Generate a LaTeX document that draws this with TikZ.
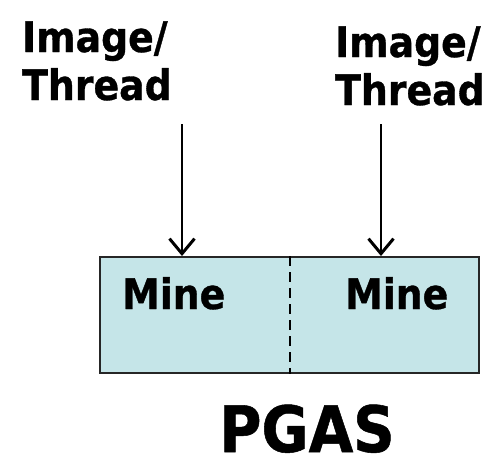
\documentclass[tikz,border=0pt]{standalone}
\usepackage{fontspec}
\setmainfont{DejaVu Sans Condensed}[BoldFeatures={FakeBold=0.8}]
\usetikzlibrary{arrows.meta}
\definecolor{boxfill}{RGB}{197,229,232}
\begin{document}
\begin{tikzpicture}[x=1pt,y=1pt,
  lbl/.style={font=\bfseries\fontsize{42}{48}\selectfont, inner sep=0pt, anchor=base west},
  arr/.style={line width=1.6pt, -{Straight Barb[length=15pt,width=25pt,line width=3pt]}},
  memory/.style={draw=black!85, line width=1.8pt, fill=boxfill}]
\useasboundingbox (0,0) rectangle (501,-467);
% labels
\node[lbl] (l1a) at (22,-52) {Image/};
\node[lbl] (l1b) at (22,-100) {Thread};
\node[lbl] (l2a) at (335,-57) {Image/};
\node[lbl] (l2b) at (335,-105) {Thread};
% memory box
\node[memory, minimum width=379pt, minimum height=116pt, inner sep=0pt, anchor=north west] (mem) at (99,-256) {};
\draw[line width=1.6pt, dash pattern=on 10pt off 6pt] (mem.north west) ++(191,0) coordinate (dtop) -- (dtop |- mem.south);
\node[lbl] (m1) at (122,-309) {Mine};
\node[lbl] (m2) at (345,-309) {Mine};
% arrows
\coordinate (a1) at (182,-124);
\coordinate (a2) at (381,-124);
\draw[arr] (a1) -- (a1 |- mem.north);
\draw[arr] (a2) -- (a2 |- mem.north);
\node[font=\bfseries\fontsize{64}{66}\selectfont, inner sep=0pt, anchor=base] (pgas) at (307,-452) {PGAS};
\end{tikzpicture}
\end{document}
